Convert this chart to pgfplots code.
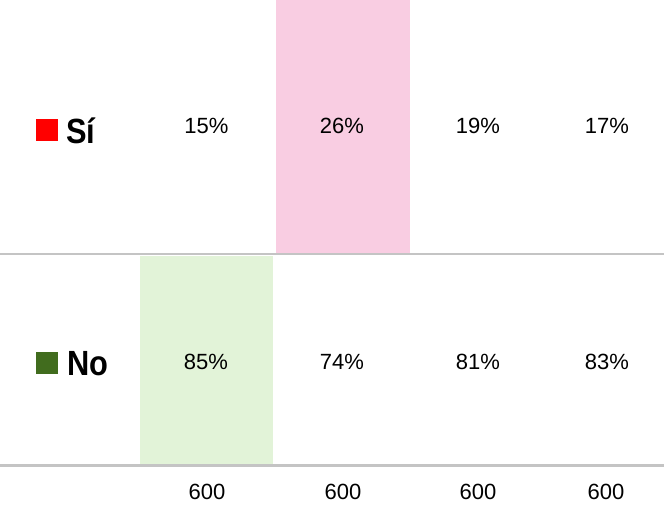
\documentclass[border=0pt]{standalone}
\usepackage{fontspec}
\setmainfont{Liberation Sans}
\newfontfamily\labfont[FakeStretch=0.88]{Liberation Sans}
\usepackage{pgfplots}
\pgfplotsset{compat=1.18}
\definecolor{pinkhl}{RGB}{249,205,226}
\definecolor{greenhl}{RGB}{226,243,216}
\definecolor{gridgray}{RGB}{196,196,196}
\definecolor{nogreen}{RGB}{65,108,30}
\begin{document}
\begin{tikzpicture}
\begin{axis}[name=ax, scale only axis, width=664pt, height=511pt,
  xmin=0, xmax=664, ymin=0, ymax=511, y dir=reverse,
  axis lines=none, ticks=none, clip=false,
  /pgf/number format/assume math mode=true]
% highlighted cells (largest share per row)
\addplot[fill=pinkhl, draw=none] coordinates {(276,0)(409.5,0)(409.5,253)(276,253)} -- cycle;
\addplot[fill=greenhl, draw=none] coordinates {(140,255.5)(273,255.5)(273,465)(140,465)} -- cycle;
% separators
\addplot[gridgray, line width=2.8pt] coordinates {(0,254)(664,254)};
\addplot[gridgray, line width=2.8pt] coordinates {(0,465.5)(664,465.5)};
% Si row
\addplot[draw=none, point meta=explicit,
  nodes near coords={\pgfmathprintnumber{\pgfplotspointmeta}\%},
  every node near coord/.style={anchor=base, inner sep=0pt, font=\fontsize{22}{26}\selectfont, text=black}]
  table[meta=v] {
x y v
206.5 133.5 15
342 133.5 26
478 133.5 19
607 133.5 17
};
% No row
\addplot[draw=none, point meta=explicit,
  nodes near coords={\pgfmathprintnumber{\pgfplotspointmeta}\%},
  every node near coord/.style={anchor=base, inner sep=0pt, font=\fontsize{22}{26}\selectfont, text=black}]
  table[meta=v] {
x y v
206 369.5 85
342 369.5 74
478 369.5 81
607 369.5 83
};
% base n
\addplot[draw=none, point meta=explicit,
  nodes near coords={\pgfmathprintnumber{\pgfplotspointmeta}},
  every node near coord/.style={anchor=base, inner sep=0pt, font=\fontsize{22}{26}\selectfont, text=black}]
  table[meta=v] {
x y v
207 499.5 600
343 499.5 600
478 499.5 600
606 499.5 600
};
% row keys
\addplot[only marks, mark=square*, mark size=10.5pt, color=red, mark options={fill=red, draw=red, line width=0pt}] coordinates {(46.5,129.5)};
\addplot[only marks, mark=square*, mark size=10.5pt, color=nogreen, mark options={fill=nogreen, draw=nogreen, line width=0pt}] coordinates {(46.5,363)};
\node[anchor=base west, inner sep=0pt, font=\labfont\bfseries\fontsize{35}{40}\selectfont] at (axis cs:66,143) {Sí};
\node[anchor=base west, inner sep=0pt, font=\labfont\bfseries\fontsize{35}{40}\selectfont] at (axis cs:67,375) {No};
\end{axis}
\pgfresetboundingbox
\path[use as bounding box] (ax.south west) rectangle (ax.north east);
\end{tikzpicture}
\end{document}
